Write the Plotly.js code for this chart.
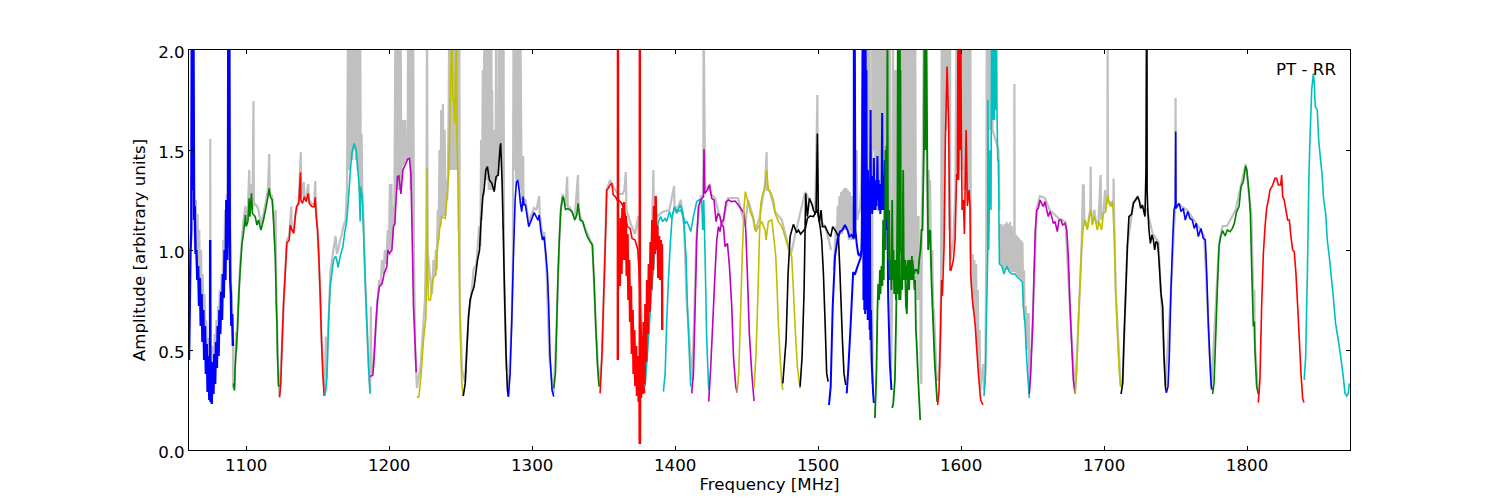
<!DOCTYPE html>
<html><head><meta charset="utf-8">
<script src="https://cdn.plot.ly/plotly-3.0.1.min.js"></script>
<style>html,body{margin:0;padding:0;background:#fff}</style></head>
<body><div id="chart" style="width:1500px;height:500px"></div>
<script>
const xTicks=[1100,1200,1300,1400,1500,1600,1700,1800];
const yTicks=[0,0.5,1,1.5,2];
const corner='PT - RR';

// unflagged spectrum (grey)
const grayF1=[1063.5,1064.2,1064.8,1065.4,1066,1066.6,1067.2,1067.8,1068.4,1069,1069.6,1070.2,1070.8,1071.4,1072,1072.6,1073.2,1073.8,1074.4,1074.8,1074.9,1075,1075.6,1076.2,1076.8,1077.4,1078,1078.6,1079.2,1079.8,1080.4,1081,1081.6,1082.2,1082.8,1083.4,1084,1084.6,1085.2,1085.8,1086.4,1087,1087.5,1088,1088.3,1088.8,1089.3,1090,1090.7,1090.8,1091.8,1093,1093.3,1094,1095.8,1097,1098.1,1099.5,1100,1101.2,1102.1,1102.7,1103.7,1104.4,1105.1,1105.4,1106.3,1107.5,1108.6,1110.3,1112.1,1114,1115.2,1116.1,1116.5,1118.2,1119.1,1120.3,1120.6,1121,1122,1122.6,1123.3,1125.2,1127.3,1128.4,1130.1,1131.5,1131.8,1133.3,1134.3,1136.8,1138.2,1138.5,1140.3,1140.8,1142,1143.4,1143.8,1146,1147.6,1148.3,1148.7,1149.9,1150.8,1151.8,1152.7,1154.6];
const grayA1=[1.3,1.0,1.25,0.95,1.18,0.88,1.1,0.8,1.0,0.72,0.88,0.62,0.78,0.55,0.65,0.48,0.56,0.42,0.48,0.5,1.555,0.4,0.5,0.4,0.52,0.42,0.58,0.48,0.65,0.55,0.72,0.62,0.8,0.7,0.88,0.8,1.05,0.9,1.2,1.0,1.28,1.1,2.2,1.1,2.2,1.1,0.85,0.75,0.55,0.31,0.32,0.59,0.5,0.65,0.93,1.05,1.15,1.22,1.15,1.2,1.4,1.2,1.33,1.2,1.745,1.22,1.23,1.22,1.2,1.13,1.18,1.25,1.3,1.48,1.28,1.27,1.17,1.0,1.2,0.83,0.5,0.33,0.27,0.55,0.9,1.05,1.07,1.217,1.1,1.1,1.17,1.25,1.49,1.26,1.34,1.25,1.26,1.33,1.25,1.23,1.23,1.345,1.2,1.1,0.97,0.77,0.55,0.27];
const grayF2=[1154.8,1155.7,1156.2,1157.6,1159,1161,1162.5,1163.4,1164.3,1165.7,1167,1168,1169.5,1170.5,1171.3,1171.9,1172.5,1173.1,1173.7,1174.3,1174.9,1175.5,1176.1,1176.7,1177.3,1177.9,1178.5,1179.1,1179.7,1180.2,1180.7,1181.2,1182.1,1183.2,1184.4,1185.6,1186.7,1187.2,1187.6,1189,1191,1193,1194,1195,1196,1197,1198,1199,1199.8,1200.5,1201,1201.6,1202.2,1203,1203.6,1204.4,1205,1205.6,1206.2,1206.8,1207.4,1208,1208.5,1209,1209.5,1210,1210.6,1211.2,1211.8,1212.4,1213,1213.2,1213.8,1214.4,1215,1215.6,1216.2,1216.8,1217.3,1218.2,1219.4,1222,1225,1226,1226.5,1226.9,1229,1230,1231,1231.8,1232.6,1233.2,1234,1234.6,1235.2,1235.8,1236.4,1237,1237.6,1238.2,1238.8,1239.4,1240,1240.6,1241,1241.6,1242,1242.6,1243.2,1243.8,1244.4,1245,1245.6,1246.2,1246.8,1247.4,1248,1248.6,1249.1,1249.4,1251,1253,1255.5,1257.5,1259,1261,1263,1263.8,1264.3,1264.9,1265.5,1266,1266.6,1267.2,1267.8,1268.4,1269,1269.6,1270.2,1270.8,1271.4,1271.9,1272,1272.6,1273.2,1273.8,1274.5,1274.8,1275,1276,1276.4,1276.7,1277.3,1277.9,1278.5,1279.1,1279.7,1280,1280.3,1282];
const grayA2=[0.27,0.567,0.36,0.65,0.9,1.0,1.07,0.98,1.0,1.05,1.08,1.12,1.15,1.3,2.2,1.4,2.2,1.45,2.2,1.45,2.2,1.5,2.2,1.45,2.2,1.4,2.2,1.3,2.2,1.3,1.58,1.3,1.15,0.85,0.63,0.42,0.28,0.717,0.38,0.42,0.65,0.85,0.82,0.95,0.88,1.0,0.93,1.1,1.0,1.33,1.0,1.33,1.05,1.22,1.12,2.2,1.3,2.2,1.3,2.2,1.3,2.2,1.35,1.65,1.42,1.65,1.43,1.65,1.45,1.57,1.45,2.2,1.45,2.2,1.3,2.2,1.1,2.2,1.0,0.52,0.31,0.42,0.75,1.1,2.2,1.0,0.83,0.78,0.95,0.87,1.0,0.9,1.2,1.05,1.5,1.12,1.7,1.17,1.73,1.17,1.6,1.17,1.35,1.25,1.33,1.7,2.2,1.4,2.2,1.4,2.2,1.4,2.2,1.4,2.2,1.4,2.2,1.1,2.2,0.7,0.4,0.34,0.67,0.78,0.9,0.93,1.12,1.02,1.55,1.15,1.9,1.27,2.2,1.35,2.2,1.35,2.2,1.3,2.2,1.3,2.2,1.3,1.8,1.3,1.6,1.3,1.5,2.2,1.35,1.6,1.37,2.2,1.5,2.2,1.5,2.2,1.1,2.2,0.9,0.4];
const grayF3=[1283.4,1285.7,1286.5,1287,1287.6,1288.2,1288.8,1289.4,1290,1290.6,1291.2,1291.7,1292.7,1293.7,1294,1295.3,1297.6,1299,1301.4,1303,1304.9,1305.2,1307.2,1308.5,1310,1312,1315,1317,1319,1320,1321.4,1323.3,1324.5,1324.9,1326.5,1329.8,1332,1332.4,1333.5,1337,1340.5,1342.1,1344.5,1346.8,1349,1352,1354.5,1358,1360,1363.3,1364.5,1365.5,1366,1369,1372,1374.3,1374.6,1378,1381,1384,1384.8,1385.2,1388,1391,1396,1399.3,1399.6,1401,1404,1406.3,1408,1412,1415,1418,1419.7,1419.9,1421,1424.4,1425,1428,1430,1433,1437,1444,1449,1451,1454,1456,1459,1462.9,1464,1464.2,1466,1470,1474.6,1477,1481,1486,1491,1494,1498,1499.5,1499.7,1502,1505,1507.5,1509];
const grayA3=[0.27,0.65,0.95,2.2,1.4,2.2,1.35,2.2,1.35,2.2,1.3,2.2,1.25,1.47,1.25,1.25,1.14,1.17,1.21,1.2,1.27,1.19,1.07,1.09,0.9,0.47,0.28,0.6,1.05,1.2,1.28,1.22,1.367,1.22,1.21,1.16,1.375,1.22,1.17,1.11,1.05,1.03,0.62,0.32,0.48,1.3,1.35,1.3,1.28,1.28,1.3,1.39,1.2,1.13,1.08,1.17,1.0,0.4,0.6,1.15,1.4,1.2,1.17,1.19,1.2,1.32,1.22,1.2,1.25,1.12,0.75,0.35,1.08,1.27,1.27,2.2,1.3,1.33,1.28,1.26,1.2,1.12,1.26,1.26,1.12,1.25,1.18,1.1,1.16,1.33,1.49,1.3,1.3,1.19,1.15,1.08,0.98,1.14,1.29,1.25,1.2,1.775,1.2,1.14,1.12,1.05,1.0];
const grayF4=[1511,1512.5,1513.1,1513.7,1514.3,1514.9,1515.5,1516.1,1516.7,1517.3,1517.9,1518.5,1519.1,1519.7,1520.3,1520.9,1521.5,1522.1,1522.7,1523.3,1523.9,1524.5,1525.1,1525.7,1526.3,1527,1527.4,1528.2,1529.2,1530,1530.7,1531.2,1531.8,1532.4,1533,1533.6,1534.2,1534.8,1535.4,1536,1536.4,1536.9,1537.6,1538,1537.8,1538.1,1539.1,1539.4,1540,1540.6,1541.2,1541.6,1542,1542.5,1542.8,1543.4,1544,1544.6,1545.2,1545.8,1546.4,1547,1547.6,1548.2,1548.8,1549.4,1550,1550.6,1550.9,1551,1552,1552.3,1552.9,1553.5,1554.1,1554.7,1555.3,1555.9,1556.5,1557.1,1557.7,1558.3,1558.9,1559.5,1560.1,1560.7,1561.3,1561.9,1562.5,1563.1,1563.7,1564.3,1564.9,1565.5,1566.1,1566.7,1567.3,1567.9,1568.5,1569,1569.6,1570.2,1570.8,1571.4,1571.7,1572.2,1572.5,1573,1574,1575.6,1576,1577,1577.3,1578,1578.3,1579,1579.8,1580.5,1581,1583,1584.5,1585.5,1586,1586.5,1587,1587.6,1588.2,1588.8,1589.4,1590,1590.6,1591.2,1591.8,1592.3,1592.5,1594.6,1596,1596.9,1597.5,1598.1,1598.7,1599.3,1599.9,1600.5,1601.1,1601.7,1602.3,1602.9,1603.5,1604.1,1604.7,1605.3,1605.9,1606.5,1606.8,1607.5,1608.1,1608.7,1609.3,1609.9,1610.5,1611.1,1611.7,1612.3,1612.9,1613.5,1615.5,1616,1617,1617.5,1618,1618.6,1619.2,1619.8,1620.4,1621,1621.6,1622,1626.2,1626.8];
const grayA4=[0.9,1.12,1.05,1.22,1.05,1.27,1.08,1.29,1.08,1.3,1.1,1.31,1.1,1.31,1.1,1.3,1.05,1.29,1.05,1.27,1.05,1.23,1.05,1.2,1.15,1.5,1.15,1.18,1.2,1.3,1.5,2.2,1.3,2.2,1.3,2.2,0.9,2.2,0.75,2.2,0.6,0.48,0.42,0.33,2.2,1.5,1.5,2.2,1.2,2.2,1.2,2.2,1.2,1.2,2.2,1.2,2.2,1.2,2.2,1.2,2.2,1.2,2.2,1.0,2.2,0.9,2.2,0.9,0.9,0.38,0.9,2.2,0.95,1.9,0.95,1.9,0.9,2.2,0.9,2.2,0.9,2.2,0.9,2.2,0.9,2.2,0.9,2.2,0.88,2.2,0.88,2.2,0.88,2.2,0.88,2.2,0.88,2.2,0.85,1.17,0.75,1.17,0.75,1.0,0.4,0.33,1.2,1.3,2.2,2.2,1.4,1.0,1.4,1.05,1.35,0.9,1.0,0.7,0.7,0.35,0.35,0.6,0.9,2.2,0.9,2.2,1.1,2.2,1.6,2.2,1.7,2.2,1.1,2.2,0.95,1.05,1.3,2.2,1.4,2.2,1.4,2.2,1.5,2.2,1.4,2.2,1.3,2.2,1.3,2.2,1.25,2.2,1.25,2.2,1.0,0.8,0.98,0.7,0.95,0.65,0.93,0.5,0.8,0.42,0.6,0.3,0.43,0.3,0.4,0.9,2.2,1.6,2.2,1.6,2.2,1.6,2.2,1.6,1.5,1.2];
const grayF5=[1627,1627.6,1628.2,1628.8,1629.4,1630,1630.6,1631.2,1631.8,1632.4,1633,1633.6,1634.2,1634.8,1635.4,1636,1636.6,1637.2,1637.3,1637.5,1638.1,1638.7,1639.3,1639.9,1640.5,1641.1,1641.7,1642.3,1642.9,1643.5,1644,1644.5,1645.2,1645.9,1646.6,1647.3,1647.6,1650,1652.9,1655.2,1658.7,1662,1668,1673,1676,1679.7,1682,1684.3,1685.2,1685.5,1685.8,1686.2,1688.3,1690.3,1690.6,1690.9,1691.8,1693.2,1694.1,1696,1697.6,1697.9,1699.5,1700.7,1701,1702.4,1702.5,1702.7,1704.9,1706.5,1706.7,1707,1708.1,1711.6,1713,1716.3,1720.5,1723.5,1726,1730,1734,1738,1743,1746.8,1749.8,1750,1750.2,1752,1758,1764,1770,1775,1780.4,1782.9,1786,1792,1799,1803,1804.9,1805.1,1805.3,1807.9];
const grayA5=[1.13,0.93,1.13,0.92,1.12,0.9,1.13,0.92,1.14,0.9,1.13,0.9,1.14,0.89,1.12,0.89,1.1,0.89,1.83,0.89,1.08,0.88,1.07,0.87,1.06,0.86,1.05,0.85,1.04,0.75,0.9,0.65,0.72,0.5,0.68,0.68,0.3,0.63,1.21,1.27,1.26,1.2,1.16,1.14,0.72,0.28,0.63,1.02,1.33,1.12,1.325,1.15,1.11,1.2,1.417,1.2,1.13,1.2,1.15,1.13,1.375,1.15,1.19,1.3,1.2,1.28,2.2,1.25,1.23,1.25,1.358,1.2,0.8,0.32,0.33,1.02,1.24,1.27,1.22,1.2,1.08,1.04,0.32,0.8,1.23,1.76,1.22,1.23,1.2,1.14,1.07,0.3,1.03,1.12,1.12,1.2,1.43,1.18,0.62,0.8,0.55,0.28];

// blue, first band
const band01F=[1060,1060.5,1061,1061.6,1062,1062.6,1063,1063.6,1064,1064.6,1065.2,1065.8,1066.4,1067,1067.6,1068.2,1068.8,1069.4,1070,1070.6,1071.2,1071.8,1072.4,1073,1073.6,1074.2,1074.7,1074.8,1075,1075.3,1075.9,1076.5,1077.1,1077.7,1078.3,1078.9,1079.5,1080.1,1080.7,1081.3,1081.9,1082.5,1083.1,1083.7,1084.3,1084.9,1085.5,1086.1,1086.7,1087.3,1087.5,1087.9,1088.1,1088.5,1088.8,1089.3,1089.6,1090.2,1090.7];
const band01A=[0.45,0.7,0.98,1.1,2.3,1.3,2.3,1.15,1.22,0.98,1.0,0.85,0.92,0.72,0.86,0.62,0.78,0.54,0.7,0.45,0.62,0.38,0.53,0.29,0.47,0.25,0.3,1.05,0.24,0.42,0.23,0.44,0.28,0.48,0.33,0.54,0.41,0.62,0.47,0.7,0.58,0.79,0.65,0.88,0.76,1.0,0.85,1.25,0.95,1.2,2.3,1.05,2.3,1.15,0.85,0.78,0.62,0.68,0.52];
const band02F=[1091.1,1091.8,1092.3,1093,1094,1094.9,1095.8,1097,1098.1,1099.5,1100,1101.2,1102.1,1102.6,1103.7,1104.4,1106.3,1107.5,1108.6,1110.3,1112.1,1114,1115.2,1116.1,1116.8,1118.2,1119.1,1120.3,1120.8,1121,1121.5,1121.9,1122.6,1123.3];
const band02A=[0.333,0.297,0.417,0.5,0.617,0.783,0.9,1.025,1.083,1.175,1.117,1.142,1.258,1.167,1.283,1.183,1.167,1.125,1.15,1.1,1.15,1.217,1.267,1.308,1.267,1.25,1.15,0.967,0.825,0.733,0.633,0.467,0.325,0.317];
const band03F=[1123.3,1124.2,1125.2,1126.1,1127.3,1128.4,1130.1,1130.8,1132,1133.3,1134.3,1135.2,1136.8,1138,1138.2,1139.4,1140.6,1142,1143.4,1144.1,1146,1147.6,1148.3,1149,1149.9,1150.8,1151.8,1152.7,1153.6,1154.6];
const band03A=[0.263,0.333,0.55,0.733,0.883,1.033,1.05,1.125,1.1,1.083,1.167,1.217,1.233,1.388,1.25,1.233,1.267,1.242,1.283,1.233,1.217,1.217,1.263,1.167,1.1,0.967,0.767,0.55,0.383,0.27];
const band04F=[1154.8,1155.7,1156.4,1157.6,1158.7,1159.9,1161.1,1162.5,1163.4,1164.3,1165.7,1167.6,1169.2,1170.4,1171.6,1172.7,1173.9,1175.5,1176.9,1178.1,1179,1179.7,1180,1181.1,1182.1,1183.2,1184.4,1185.6,1186.7];
const band04A=[0.27,0.3,0.358,0.633,0.817,0.883,0.95,0.97,0.95,0.913,0.967,1.017,1.1,1.15,1.267,1.383,1.483,1.533,1.5,1.4,1.317,1.142,1.317,1.267,1.083,0.85,0.633,0.417,0.283];
const band05F=[1186.7,1188.6,1189.5,1190.7,1191.8,1193.2,1195.1,1196.5,1198.4,1199.1,1200.2,1201.9,1203,1204,1204.9,1205.8,1206.8,1208.2,1209.6,1211.2,1212.8,1214.2,1215.2,1215.9,1217,1218.2,1218.9];
const band05A=[0.367,0.375,0.467,0.633,0.75,0.817,0.833,0.883,0.917,1,0.983,1,1.117,1.133,1.267,1.367,1.37,1.28,1.4,1.425,1.453,1.458,1.383,1.133,0.717,0.517,0.388];
const band06F=[1219.4,1220.8,1222.2,1224,1225.6,1226.3,1226.6,1226.8,1227.5,1228.9,1229.8,1231,1232.6,1233.8,1235.2,1236.8,1239.2,1240.3,1241.7,1242.2,1243.1,1243.8,1244.5,1245.2,1245.9,1246.4,1247.1,1247.3,1248.3,1249,1249.9,1250.8,1251.7];
const band06A=[0.263,0.267,0.367,0.55,0.658,0.917,1.408,0.95,0.75,0.75,0.817,0.863,0.875,1.017,1.1,1.167,1.158,1.25,1.383,1.583,1.883,2.1,1.75,1.75,1.633,1.883,2.1,1.583,1.3,0.883,0.55,0.333,0.27];
const band07F=[1251.8,1253.2,1254.3,1255.5,1256.6,1257.8,1259.4,1260.6,1261.8,1263.2,1264.3,1265.5,1266.4,1267.6,1268.7,1270.1,1271.8,1273.4,1274.8,1276.2,1277.6,1278,1279,1279.9,1280.8,1281.8,1282.7,1283.4];
const band07A=[0.27,0.333,0.5,0.667,0.75,0.783,0.817,0.883,0.95,1,1.15,1.267,1.3,1.4,1.417,1.35,1.333,1.292,1.367,1.375,1.517,1.533,1.333,1.05,0.75,0.467,0.3,0.267];
const band08F=[1283.4,1284.6,1285.7,1286.9,1288.1,1289,1289.9,1290.9,1291.8,1292.7,1293.7,1294.4,1295.3,1296.2,1297.6,1299,1301.4,1302.8,1304.2,1304.9,1306,1307.2,1308.3,1309.5,1310.7,1311.6,1312.5,1313.9,1315.1];
const band08A=[0.267,0.383,0.633,0.967,1.25,1.342,1.347,1.3,1.233,1.192,1.267,1.225,1.225,1.183,1.117,1.142,1.187,1.167,1.15,1.175,1.1,1.05,1.067,0.983,0.883,0.717,0.467,0.3,0.267];
const band09F=[1315.1,1316.3,1317.2,1318.1,1319.1,1320,1321.4,1322.3,1323.3,1324.7,1326.5,1327.9,1329.8,1331.2,1332.1,1333.5,1335.4,1337,1338.6,1340.5,1342.1,1343.3,1344.5,1345.6,1346.8];
const band09A=[0.308,0.383,0.633,0.883,1.067,1.2,1.267,1.25,1.2,1.208,1.2,1.192,1.15,1.175,1.233,1.15,1.142,1.1,1.067,1.042,1.025,0.85,0.617,0.433,0.317];
const band10F=[1347.5,1348.7,1349.8,1351,1352.2,1353.3,1354.5,1355.7,1356.8,1358.2,1359.4,1360.6,1362.7,1365,1366.6,1368.5,1369.9,1372,1373.9,1374.8,1376,1377.3,1378.7];
const band10A=[0.283,0.45,0.717,0.983,1.3,1.308,1.325,1.333,1.275,1.267,1.25,1.25,1.233,1.18,1.117,1.108,1.058,1.05,1,0.883,0.633,0.383,0.283];
const band11F=[1379,1381.3,1383.6,1386,1388.3,1389.9,1391.3,1393,1394.1,1396,1397.6,1399.5,1401.1,1403.5,1405.3,1406.3,1407.6,1408.6,1410,1410.9];
const band11A=[0.317,0.55,0.8,1.017,1.142,1.167,1.142,1.158,1.142,1.192,1.158,1.217,1.183,1.225,1.192,1.117,0.967,0.717,0.467,0.317];
const band12F=[1391.8,1393,1394.1,1395.3,1396.5,1397.9,1399.5,1401.6,1403.9,1405.8,1406.9,1408.1,1409.3,1410.9,1412.8,1415.1,1417.4,1418.6,1419.3,1420,1420.9,1422.1,1423.5];
const band12A=[0.292,0.383,0.633,0.85,1.017,1.167,1.208,1.192,1.2,1.167,1.133,1.142,1.125,1.092,1.167,1.242,1.253,1.25,1.1,1.25,0.983,0.55,0.3];
// red, strongly rippled band
const band13F=[1359.9,1360,1360.1,1360.7,1361.3,1361.9,1362.5,1363.1,1363.7,1364.3,1364.9,1365.5,1366.1,1366.7,1367.3,1367.9,1368.5,1369.1,1369.7,1370.3,1370.9,1371.5,1372.1,1372.7,1373.3,1373.9,1374.5,1375,1375.2,1375.3,1375.4,1375.6,1376.2,1376.8,1377.4,1378,1378.6,1379.2,1379.8,1380.4,1381,1381.6,1382.2,1382.8,1383.4,1384,1384.6,1385.2,1385.8,1386.4,1387,1387.6,1388.2,1388.8,1389.4,1390,1390.6,1390.8,1391];
const band13A=[0.45,2.3,0.8,1.05,0.82,1.16,0.88,1.21,0.95,1.24,0.95,1.17,0.87,1.08,0.75,0.95,0.64,0.82,0.48,0.7,0.38,0.6,0.32,0.52,0.27,0.47,0.24,0.45,0.03,2.3,0.03,0.5,0.26,0.57,0.28,0.64,0.33,0.73,0.44,0.85,0.58,0.93,0.69,1.04,0.8,1.15,0.9,1.22,0.98,1.27,1,1.12,0.86,1.07,0.85,1.05,0.85,1.03,0.6];
const band14F=[1411.6,1412.8,1414,1415.1,1416.3,1417.9,1419.8,1420.2,1420.7,1422.6,1424,1425.6,1427.2,1428.6,1430,1431.4,1432.6,1433.8,1434.9,1436.6,1438,1439.6,1440.8,1442.4,1443.3];
const band14A=[0.283,0.383,0.717,1.05,1.217,1.25,1.267,1.505,1.283,1.3,1.325,1.258,1.25,1.142,1.183,1.167,1.125,1.117,1.017,1.033,0.917,0.717,0.467,0.317,0.287];
const band15F=[1423.5,1424.9,1426.3,1427.9,1429.1,1430.3,1431.4,1432.6,1433.8,1435.6,1437.3,1439.6,1441.9,1444.2,1446.6,1448.2,1449.4,1450.5,1451.9,1453.6,1455.2];
const band15A=[0.242,0.417,0.633,0.883,1.05,1.117,1.092,1.142,1.15,1.242,1.25,1.242,1.245,1.225,1.2,1.183,1.1,0.883,0.583,0.383,0.245];
const band16F=[1443.3,1444.5,1445.9,1447,1448.2,1449.1,1451.2,1452.9,1454.7,1456.4,1458.2,1460.6,1462.9,1463.6,1465.2,1467.6,1469.2,1470.4,1471.1,1472.2,1473.4,1474.6,1475.3];
const band16A=[0.287,0.383,0.717,0.983,1.217,1.292,1.233,1.183,1.158,1.092,1.117,1.142,1.1,1.05,1.142,1.15,1.05,0.967,0.85,0.633,0.467,0.333,0.3];
const band17F=[1455.2,1456.6,1458,1458.9,1459.9,1461.3,1462.7,1464,1465.2,1467.1,1468.7,1469.9,1472.2,1474.6,1476.9,1479.2,1481.5,1482.7,1483.9,1485.5,1487.4];
const band17A=[0.308,0.483,0.8,1.05,1.233,1.283,1.308,1.4,1.3,1.283,1.25,1.183,1.142,1.117,1.067,1.008,0.967,0.8,0.617,0.417,0.308];
const band18F=[1475.3,1477.6,1479,1480.4,1482.7,1485,1486.2,1487.8,1491.1,1492.5,1494.4,1496.7,1498.6,1499.5,1500.2,1501.4,1502.5,1503.7,1504.9,1506,1507];
const band18A=[0.333,0.55,0.883,1.067,1.128,1.087,1.1,1.08,1.108,1.158,1.17,1.167,1.192,1.583,1.167,1.117,1.05,0.883,0.633,0.383,0.342];
const band19F=[1487.4,1488.8,1490.2,1491.3,1492.5,1493.9,1495.5,1496.7,1497.9,1499.5,1500.9,1502.1,1503,1504.9,1507.2,1508.8,1510.2,1512.5,1514.2,1515.3,1517,1518.1,1519.3];
const band19A=[0.317,0.467,0.8,1.283,1.167,1.258,1.233,1.2,1.183,1.2,1.142,1.2,1.117,1.117,1.083,1.067,1.117,1.092,1.067,0.883,0.55,0.383,0.325];
const band20F=[1507.6,1508.8,1510.2,1511.8,1513.5,1515.3,1517,1518.8,1520.5,1521.9,1523.5,1524.9,1525,1525.3,1525.6,1526.1,1527,1528,1529,1530.5,1531.4,1531.7,1532,1532.3,1532.6,1532.9,1533.2,1533.5,1533.8,1534.1,1534.4,1534.7,1535,1535.3,1535.6,1536,1536.2,1536.6,1537,1537.6,1538.5,1539];
const band20A=[0.225,0.317,0.717,0.967,1.05,1.092,1.1,1.125,1.1,1.067,1.075,1.058,2.2,1.06,2.2,1.1,1.03,0.98,0.97,1.0,2.2,0.75,2.2,0.7,2.2,0.68,2.2,0.75,1.9,0.7,1.3,0.65,1.3,0.65,1.3,0.6,1.3,0.55,0.7,0.42,0.28,0.235];
const band21F=[1520,1521.2,1522.8,1524.5,1525.7,1528,1529.7,1530.4,1531,1531.3,1534,1534.4,1534.8,1535.2,1535.6,1536,1536.4,1536.7,1537,1537.4,1537.8,1538.2,1538.6,1539,1539.3,1539.7,1540.1,1540.5,1540.9,1541.5,1541.9,1542.3,1542.7,1543.1,1543.5,1543.9,1544.3,1544.8,1545.1,1545.5,1545.9,1546.3,1546.7,1547,1547.4,1547.8,1548.2,1548.6,1549,1550.2,1551.3];
const band21A=[0.283,0.417,0.633,0.89,0.877,0.927,0.96,0.99,1.2,2.2,1.3,1.18,1.4,1.2,1.35,1.15,1.3,1.7,1.2,1.37,1.18,1.33,1.2,1.46,1.2,1.35,1.2,1.32,1.22,1.47,1.25,1.35,1.2,1.33,1.18,1.3,1.2,1.685,1.2,1.37,1.2,1.3,1.45,1.15,1.35,1.1,1.33,1.05,0.76,0.43,0.3];
const band22F=[1539.7,1540.4,1540.8,1541.5,1542,1542.7,1543.2,1543.6,1544.3,1545,1545.5,1545.9,1546.4,1546.9,1547.1,1547.4,1547.8,1548.1,1548.5,1548.8,1549.2,1549.7,1550.2,1550.6,1551.3,1551.8,1552.3,1552.7,1553.2,1553.9,1554.4,1555,1555.8,1556.2,1556.7,1557.2,1557.6,1558.3,1558.8,1559.5,1560,1560.7,1561.4,1562.1,1562.5,1563,1563.7,1564.2,1564.9,1565.6,1566,1566.7,1567.4,1567.9,1568.4,1568.8,1570,1570.7,1571.4];
const band22A=[0.16,0.3,0.4,0.7,0.83,0.75,0.9,0.78,0.92,0.82,1.15,0.85,1.2,1.0,1.5,1.15,1.52,1.2,2.2,1.2,0.95,1.2,0.85,0.95,0.8,1.25,0.85,1.0,0.78,0.95,0.75,0.9,0.78,1.0,0.75,0.85,0.75,0.95,0.8,1.4,0.85,0.95,0.72,0.68,0.85,0.9,0.8,0.95,0.85,0.97,0.85,0.9,0.8,0.85,0.6,0.55,0.35,0.25,0.15];
const band23F=[1551.8,1552.5,1553.7,1554.4,1555,1555.5,1555.8,1556,1556.2,1556.5,1556.7,1556.9,1557.2,1557.4,1557.6,1557.9,1558.3,1559,1560,1561,1562,1563,1564,1565,1566,1567,1568,1569,1570,1570.7,1571.6,1572.3,1573,1574,1574.4,1575.1,1575.6,1576.5,1577,1577.7,1578.4,1579.3,1581.6,1583.3];
const band23A=[0.21,0.23,0.35,0.6,0.85,1.3,2.2,0.8,2.2,0.8,2.2,0.8,2.2,1.0,1.9,1,1,0.9,0.9,0.95,0.85,0.95,0.9,0.87,0.95,0.88,0.9,0.9,0.88,0.95,1,1.1,1.1,1.5,2.2,1.5,2.2,1.34,1,1.09,1.1,0.84,0.43,0.24];
const band24F=[1583.6,1584.6,1585.5,1586.4,1586.9,1587.4,1588.1,1589,1590.2,1591.3,1592.3,1593,1594.6,1595.8,1596.9,1597.4,1597.9,1598.3,1598.8,1599.3,1599.7,1600.2,1600.7,1601.6,1602.3,1603.5,1604.4,1605.6,1606.2,1606.7,1607.9,1609.8,1612.1,1613.7,1615.3];
const band24A=[0.225,0.3,0.55,0.85,0.77,0.87,1.02,1.55,1.917,1.63,0.9,0.9,0.95,1.05,1.38,1.35,2.2,1.35,2.2,1.5,2.2,1.55,1.2,1.25,1.08,1.6,1.22,1.3,1.22,0.88,0.75,0.63,0.38,0.25,0.225];
const band25F=[1616,1617,1617.9,1618.6,1618.8,1619.3,1620.2,1620.9,1621.4,1622.1,1622.6,1623.3,1623.7,1624.2,1624.7,1625.1,1625.6,1626.1,1626.8,1628.4,1630,1631.9,1633.8,1635.4,1637.7,1640,1642.9,1643.5,1644.7,1645.9,1647.7];
const band25A=[0.27,0.38,0.72,0.97,1.75,1,1.5,1.2,2.2,1.65,2.2,1.65,2.2,1.7,2.2,1.7,1.45,1.45,0.93,0.92,0.88,0.92,0.89,0.88,0.88,0.86,0.84,0.72,0.63,0.45,0.26];
const band26F=[1647.7,1648.7,1650.1,1651,1651.9,1652.9,1654,1655.2,1656.4,1657.5,1658.7,1659.9,1661,1662.2,1663.4,1664.5,1665.7,1667.3,1668.5,1669.9,1671,1672.7,1673.9,1675,1676.2,1677.4,1678.5,1679.7];
const band26A=[0.28,0.383,0.633,0.883,1.1,1.2,1.208,1.25,1.233,1.217,1.242,1.2,1.167,1.192,1.167,1.133,1.142,1.092,1.15,1.15,1.125,1.133,1.1,0.967,0.717,0.517,0.35,0.283];
const band27F=[1679.7,1680.8,1682,1683.2,1684.3,1685.5,1686.7,1688.3,1689.7,1690.9,1691.8,1693,1694.1,1695.3,1696.5,1698.3,1699.5,1701.1,1702.5,1703.5,1704.9,1706,1707.2,1708.1,1709.5,1710.7,1711.6];
const band27A=[0.283,0.383,0.633,0.833,1.017,1.117,1.15,1.1,1.167,1.2,1.125,1.167,1.142,1.1,1.142,1.1,1.183,1.192,1.275,1.233,1.217,1.242,1.05,0.8,0.55,0.383,0.317];
const band28F=[1711.9,1713,1713.9,1715.1,1716.3,1717.4,1719.3,1720.5,1722.1,1723.5,1724.7,1725.6,1726.8,1728.6,1729.3,1729.7,1729.8,1730,1730.1,1730.5,1731.4,1732.4,1733.5,1734.5,1735.4,1736.3,1737.5,1738.4,1739.8,1741,1741.9,1742.9,1743.6];
const band28A=[0.28,0.333,0.55,0.783,1.017,1.167,1.18,1.233,1.25,1.267,1.242,1.208,1.225,1.167,1.4,2.2,1.4,2.2,1.3,1.217,1.1,1.033,1.075,1.05,1,1.042,1.033,0.95,0.783,0.717,0.467,0.317,0.287];
const band29F=[1743.6,1744.7,1745.6,1746.8,1748,1748.9,1749.8,1750.1,1750.3,1751.7,1752.6,1753.8,1755.4,1756.8,1758.5,1760.1,1761.7,1763.1,1764.5,1765.9,1767.8,1769.4,1770.8,1771.8,1772.9,1774.1,1775,1775.9];
const band29A=[0.287,0.317,0.467,0.8,1.05,1.2,1.225,1.592,1.208,1.225,1.233,1.192,1.208,1.15,1.192,1.158,1.15,1.108,1.133,1.067,1.108,1.058,1.05,0.883,0.633,0.433,0.317,0.3];
const band30F=[1775.9,1776.9,1778,1779.2,1780.4,1781.5,1782.9,1784.6,1786.2,1788.1,1789.7,1791.1,1792.7,1794.4,1795.8,1797.4,1799,1799.9,1801.4,1802.3,1803.2,1804.4,1805.1,1805.6,1806.7,1807.9];
const band30A=[0.28,0.333,0.55,0.8,1.017,1.067,1.097,1.07,1.1,1.092,1.108,1.133,1.192,1.217,1.317,1.342,1.42,1.4,1.283,1.183,0.917,0.617,0.642,0.483,0.317,0.28];
const band31F=[1807.9,1809,1810.2,1811.4,1812.6,1813.7,1814.9,1816,1817.7,1819.5,1820.7,1821.9,1823.5,1824.2,1824.9,1826,1827.2,1828.4,1829.6,1830.7,1831.9,1833,1834.2,1835.4,1836.6,1837.7,1838.9,1839.8];
const band31A=[0.237,0.35,0.717,0.983,1.117,1.208,1.25,1.3,1.32,1.358,1.358,1.325,1.325,1.375,1.267,1.25,1.2,1.15,1.15,1.067,1,0.992,0.883,0.717,0.55,0.383,0.258,0.237];
const band32F=[1840,1841,1842.2,1843.3,1844,1845.2,1846.4,1847,1847.7,1849.1,1850.1,1851.2,1852.4,1853.6,1855,1856.1,1857.5,1858.7,1860.3,1861.9,1863.8,1865.5,1867.3,1868.5,1869.7,1870.8,1871.5];
const band32A=[0.35,0.467,0.883,1.383,1.55,1.8,1.883,1.833,1.717,1.7,1.55,1.467,1.383,1.25,1.183,1.05,0.967,0.883,0.767,0.633,0.55,0.467,0.367,0.283,0.27,0.283,0.333];

const BLUE='#0000ff',GREEN='#008000',RED='#ff0000',CYAN='#00bfbf',MAG='#bf00bf',YEL='#bfbf00',BLK='#000000',GREY='#c0c0c0';
const grey=[[grayF1,grayA1],[grayF2,grayA2],[grayF3,grayA3],[grayF4,grayA4],[grayF5,grayA5]];
const bands=[[band01F,band01A,BLUE,2.4],[band02F,band02A,GREEN],[band03F,band03A,RED],[band04F,band04A,CYAN],[band05F,band05A,MAG],[band06F,band06A,YEL],[band07F,band07A,BLK],[band08F,band08A,BLUE],[band09F,band09A,GREEN],[band10F,band10A,RED],[band11F,band11A,CYAN],[band12F,band12A,CYAN],[band13F,band13A,RED,2.4],[band14F,band14A,MAG],[band15F,band15A,MAG],[band16F,band16A,YEL],[band17F,band17A,YEL],[band18F,band18A,BLK],[band19F,band19A,BLK],[band20F,band20A,BLUE,2],[band21F,band21A,BLUE,2],[band22F,band22A,GREEN,1.8],[band23F,band23A,GREEN,1.8],[band24F,band24A,RED],[band25F,band25A,CYAN],[band26F,band26A,MAG],[band27F,band27A,YEL],[band28F,band28A,BLK],[band29F,band29A,BLUE],[band30F,band30A,GREEN],[band31F,band31A,RED],[band32F,band32A,CYAN]];

const traces=[];
grey.forEach(g=>traces.push({type:'scatter',mode:'lines',x:g[0],y:g[1],line:{color:GREY,width:2.2,simplify:false},hoverinfo:'skip',showlegend:false}));
bands.forEach(b=>traces.push({type:'scatter',mode:'lines',x:b[0],y:b[1],line:{color:b[2],width:b[3]||1.6,simplify:false},showlegend:false}));

const font={family:'"DejaVu Sans",sans-serif',size:16.67,color:'#000'};
const axis={showgrid:false,zeroline:false,showline:true,linecolor:'#000',linewidth:1,mirror:'ticks',ticks:'inside',ticklen:4,tickwidth:1,tickcolor:'#000',tickfont:font};
Plotly.newPlot('chart',traces,{
  width:1500,height:500,paper_bgcolor:'#fff',plot_bgcolor:'#fff',showlegend:false,font:font,
  margin:{l:189,r:150,t:50,b:50,pad:0},
  xaxis:Object.assign({},axis,{range:[1060,1872],tickvals:xTicks,ticktext:xTicks.map(String),title:{text:'Frequency [MHz]',font:font,standoff:4}}),
  yaxis:Object.assign({},axis,{range:[0,2],tickvals:yTicks,ticktext:yTicks.map(v=>v.toFixed(1)),ticklabelshift:2,title:{text:'Amplitude [arbitrary units]',font:font,standoff:8}}),
  annotations:[{text:corner,xref:'paper',yref:'paper',x:0.9895,y:0.9525,xanchor:'right',yanchor:'middle',showarrow:false,font:font}]
},{displayModeBar:false,staticPlot:true});
const mism=[...grey.map((g,i)=>['g'+i,g[0].length,g[1].length]),...bands.map((b,i)=>['b'+(i+1),b[0].length,b[1].length])].filter(r=>r[1]!==r[2]);
if(mism.length)console.error(JSON.stringify(mism));
</script></body></html>
